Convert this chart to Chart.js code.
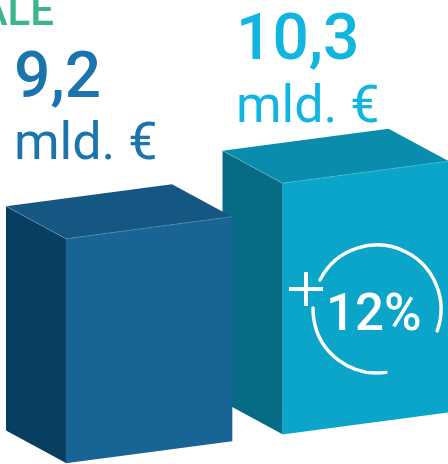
<!DOCTYPE html>
<html lang="it">
<head>
  <meta charset="UTF-8" />
  <title>Totale mld. €</title>
  <script src="https://cdn.jsdelivr.net/npm/chart.js"></script>
  <style>
    html, body { margin: 0; padding: 0; background: #fff; overflow: hidden; }
    #wrap { width: 448px; height: 464px; }
  </style>
</head>
<body>
  <div id="wrap"><canvas id="boxChart" width="448" height="464"></canvas></div>

  <script>
    // dati
    const periods = ['Precedente', 'Attuale'];
    const totals = [9.2, 10.3];
    const unitLabel = 'mld. €';
    const headLabel = 'ALE';

    // colori delle facce: frontale, laterale, superiore
    const frontColors = ['#186595', '#0aa5c9'];
    const sideColors = ['#083e5f', '#066c85'];
    const topColors = ['#145782', '#0a8cad'];
    const textColors = ['#1b74ae', '#10b5e0'];

    const SKEW = 0.133;       // inclinazione della base verso destra
    const DEPTH_X = -60;      // profondità della scatola
    const DEPTH_Y = -32.5;

    const fmt = v => v.toFixed(1).replace('.', ',');

    function barBox(bar) {
      const p = bar.getProps(['x', 'y', 'base', 'width'], true);
      return { l: p.x - p.width / 2, r: p.x + p.width / 2, top: p.y, base: p.base };
    }

    const boxes3d = {
      id: 'boxes3d',
      beforeDatasetsDraw(chart) {
        const ctx = chart.ctx;
        const bars = chart.getDatasetMeta(0).data;
        const ox = barBox(bars[0]).l;
        const dv = DEPTH_Y + SKEW * DEPTH_X;
        ctx.save();
        ctx.transform(1, -SKEW, 0, 1, 0, SKEW * ox);
        // dal fondo verso il primo piano
        for (let i = bars.length - 1; i >= 0; i--) {
          const b = barBox(bars[i]);
          ctx.fillStyle = sideColors[i];
          ctx.beginPath();
          ctx.moveTo(b.l, b.top);
          ctx.lineTo(b.l + DEPTH_X, b.top + dv);
          ctx.lineTo(b.l + DEPTH_X, b.base + dv);
          ctx.lineTo(b.l, b.base);
          ctx.closePath();
          ctx.fill();

          ctx.fillStyle = topColors[i];
          ctx.beginPath();
          ctx.moveTo(b.l, b.top);
          ctx.lineTo(b.r, b.top);
          ctx.lineTo(b.r + DEPTH_X, b.top + dv);
          ctx.lineTo(b.l + DEPTH_X, b.top + dv);
          ctx.closePath();
          ctx.fill();
        }
      },
      afterDatasetsDraw(chart) {
        const ctx = chart.ctx;
        const bars = chart.getDatasetMeta(0).data;
        const dv = DEPTH_Y + SKEW * DEPTH_X;
        // spigoli chiari sul bordo superiore
        ctx.strokeStyle = 'rgba(255,255,255,0.28)';
        ctx.lineWidth = 0.7;
        for (let i = bars.length - 1; i >= 0; i--) {
          const b = barBox(bars[i]);
          ctx.beginPath();
          ctx.moveTo(b.l + DEPTH_X, b.top + dv);
          ctx.lineTo(b.l, b.top);
          ctx.lineTo(b.r, b.top);
          ctx.stroke();
        }
        ctx.restore();
      },
      afterDraw(chart) {
        const ctx = chart.ctx;
        ctx.save();
        ctx.textAlign = 'left';
        ctx.textBaseline = 'alphabetic';

        // titolo tagliato in alto
        ctx.fillStyle = '#3ab58e';
        ctx.font = '500 42px Roboto';
        ctx.textAlign = 'right';
        ctx.fillText(headLabel, 54, 25);
        ctx.textAlign = 'left';

        // etichette valore
        const spots = [
          { x: 14, y1: 97, y2: 159 },
          { x: 236, y1: 59, y2: 122 }
        ];
        totals.forEach((v, i) => {
          ctx.fillStyle = textColors[i];
          ctx.font = '500 64px Roboto';
          ctx.fillText(fmt(v), spots[i].x, spots[i].y1);
          ctx.font = '400 52px Roboto';
          ctx.fillText(unitLabel, spots[i].x, spots[i].y2);
        });

        // variazione percentuale
        const pct = Math.round((totals[1] / totals[0] - 1) * 100);
        const cx = 377, cy = 309, rad = 64;
        const deg = a => a * Math.PI / 180;
        ctx.strokeStyle = '#fff';
        ctx.lineWidth = 3.5;
        ctx.lineCap = 'round';
        ctx.beginPath();
        ctx.arc(cx, cy, rad, deg(207), deg(380));
        ctx.stroke();
        ctx.beginPath();
        ctx.arc(cx, cy, rad, deg(82), deg(181));
        ctx.stroke();

        ctx.lineWidth = 4;
        ctx.lineCap = 'butt';
        ctx.beginPath();
        ctx.moveTo(289, 289); ctx.lineTo(323, 289);
        ctx.moveTo(306, 272); ctx.lineTo(306, 306);
        ctx.stroke();

        ctx.fillStyle = '#fff';
        ctx.font = '500 51px Roboto';
        ctx.fillText(pct + '%', 326, 330);
        ctx.restore();
      }
    };

    new Chart(document.getElementById('boxChart'), {
      type: 'bar',
      data: {
        labels: periods,
        datasets: [{
          data: totals,
          backgroundColor: frontColors,
          borderWidth: 0,
          barThickness: 166,
          clip: false
        }]
      },
      options: {
        responsive: false,
        animation: false,
        layout: { padding: { left: 149, right: 82.5, top: 0, bottom: 1 } },
        scales: {
          x: { display: false, offset: false },
          y: { display: false, min: 0, max: 19 }
        },
        plugins: {
          legend: { display: false },
          tooltip: { enabled: false }
        }
      },
      plugins: [boxes3d]
    });
  </script>
</body>
</html>
